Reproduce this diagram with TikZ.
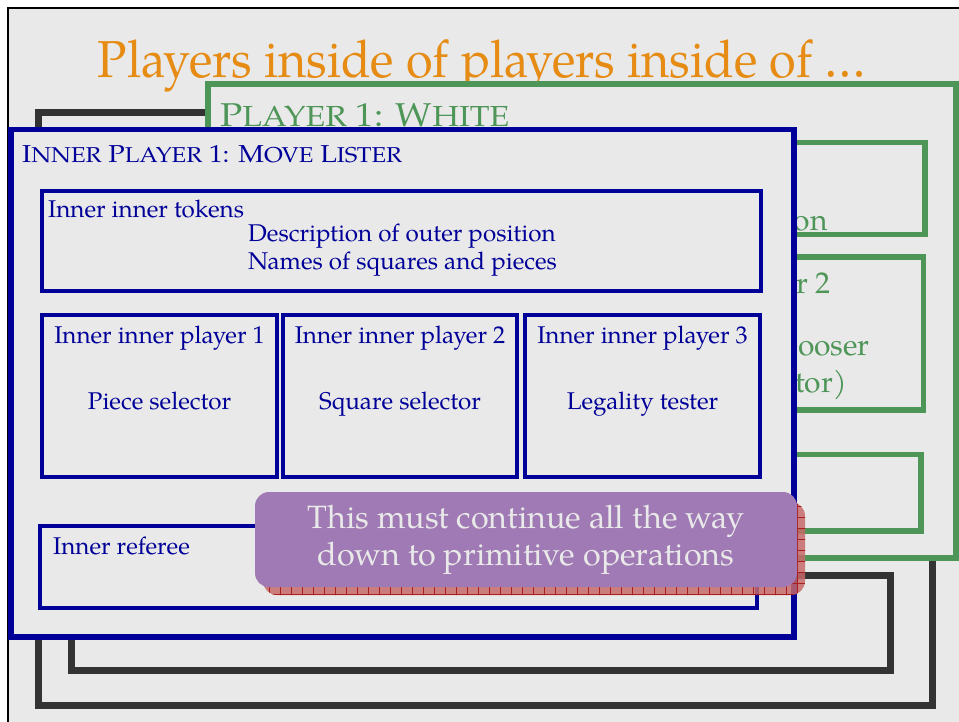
\documentclass[tikz,border=0pt]{standalone}
\usepackage{fontspec}
\setmainfont{TeX Gyre Pagella}
\usetikzlibrary{patterns}

\definecolor{slidegray}{RGB}{233,233,233}
\definecolor{navy}{RGB}{0,0,153}
\definecolor{leaf}{RGB}{78,150,88}
\definecolor{coal}{RGB}{51,51,51}
\definecolor{amber}{RGB}{230,140,20}
\definecolor{lilac}{RGB}{160,122,180}
\definecolor{rust}{RGB}{170,30,30}
\definecolor{blush}{RGB}{198,105,105}

% small letters of the fake small caps
\newcommand{\lowcaps}[2]{{\fontsize{#1}{#1}\selectfont #2}}

\pgfdeclarepatternformonly{wide grid}{\pgfqpoint{-1pt}{-1pt}}{\pgfqpoint{11pt}{11pt}}{\pgfqpoint{11pt}{11pt}}{
  \pgfsetlinewidth{0.9pt}
  \pgfpathmoveto{\pgfqpoint{0pt}{5.5pt}}\pgfpathlineto{\pgfqpoint{11pt}{5.5pt}}
  \pgfpathmoveto{\pgfqpoint{5.5pt}{0pt}}\pgfpathlineto{\pgfqpoint{5.5pt}{11pt}}
  \pgfusepath{stroke}}

\tikzstyle{wire} = [draw=coal,line width=7pt]
\tikzstyle{outer box} = [draw=leaf,line width=6pt,fill=slidegray]
\tikzstyle{outer part} = [draw=leaf,line width=5.5pt]
\tikzstyle{outer text} = [text=leaf,inner sep=0pt,font=\fontsize{30}{35}\selectfont]
\tikzstyle{inner box} = [draw=navy,line width=5.5pt,fill=slidegray]
\tikzstyle{inner part} = [draw=navy,line width=4pt]
\tikzstyle{part text} = [text=navy,inner sep=0pt,font=\fontsize{24.2}{28}\selectfont]
\tikzstyle{callout} = [fill=lilac,rounded corners=14pt]
\tikzstyle{callout shadow} = [fill=blush,fill opacity=0.85,rounded corners=14pt]

\begin{document}
\begin{tikzpicture}[x=1pt,y=-1pt]
\useasboundingbox (0,0) rectangle (959,721);
\fill[white] (0,0) rectangle (959,721);
\draw[fill=slidegray,line width=2.5pt] (8,8) rectangle (980,740);

% title
\node[text=amber,inner sep=0pt,anchor=base,font=\fontsize{52}{58}\selectfont] (title) at (482,77)
  {\scalebox{0.935}[1]{Players inside of players inside of \dots}};

% the nested outer players
\draw[wire] (38,112) rectangle (932,705);
\draw[wire] (71,575) rectangle (890.5,670.5);

% player 1
\draw[outer box] (207.5,84) rectangle (956,558);
\node[outer text,anchor=base west,font=\fontsize{33}{38}\selectfont] (white) at (220,126)
  {\scalebox{1.11}[1]{P\lowcaps{29}{LAYER} 1: W\lowcaps{29}{HITE}}};
\draw[outer part] (230,142.5) rectangle (925,234.5);
\draw[outer part] (230,257) rectangle (923.5,410);
\draw[outer part] (230,454.5) rectangle (921,531);
\node[outer text,anchor=base east] (position) at (828,230) {position};
\node[outer text,anchor=base east] (player2) at (831,293) {Player 2};
\node[outer text,anchor=base east] (chooser) at (870,355) {chooser};
\node[outer text,anchor=base east] (evaluator) at (847,392) {(evaluator)};

% inner player 1
\draw[inner box] (11,129.5) rectangle (794,637);
\node[part text,anchor=base west,font=\fontsize{24.5}{28}\selectfont] (lister) at (22,162)
  {\scalebox{1.11}[1]{I\lowcaps{21.5}{NNER} P\lowcaps{21.5}{LAYER} 1: M\lowcaps{21.5}{OVE} L\lowcaps{21.5}{ISTER}}};

\draw[inner part] (42,191) rectangle (761,290.5);
\node[part text,anchor=base west] (tokens) at (48,217) {Inner inner tokens};
\node[part text,anchor=base west] (outerpos) at (248,241) {Description of outer position};
\node[part text,anchor=base west] (names) at (248,269) {Names of squares and pieces};

\foreach \left/\right/\num/\role in {42/277/1/Piece selector, 283/517/2/Square selector,
                                   525/760/3/Legality tester}{
  \draw[inner part] (\left,315) rectangle (\right,477);
  \node[part text,anchor=base] (head\num) at ({(\left+\right)/2},343) {Inner inner player \num};
  \node[part text,anchor=base] (role\num) at ({(\left+\right)/2},409) {\role};
}

\draw[inner part] (40,526) rectangle (757,608);
\node[part text,anchor=base west] (referee) at (53,554) {Inner referee};

% callout
\path[callout shadow] (263,502) rectangle (805,595);
\path[pattern=wide grid,pattern color=rust,rounded corners=14pt] (263,502) rectangle (805,595);
\path[callout] (255,492) rectangle (797,587);
\node[text=slidegray,align=center,inner sep=0pt,font=\fontsize{32.3}{37}\selectfont] (primitive) at (526,540)
  {This must continue all the way\\down to primitive operations};
\end{tikzpicture}
\end{document}
